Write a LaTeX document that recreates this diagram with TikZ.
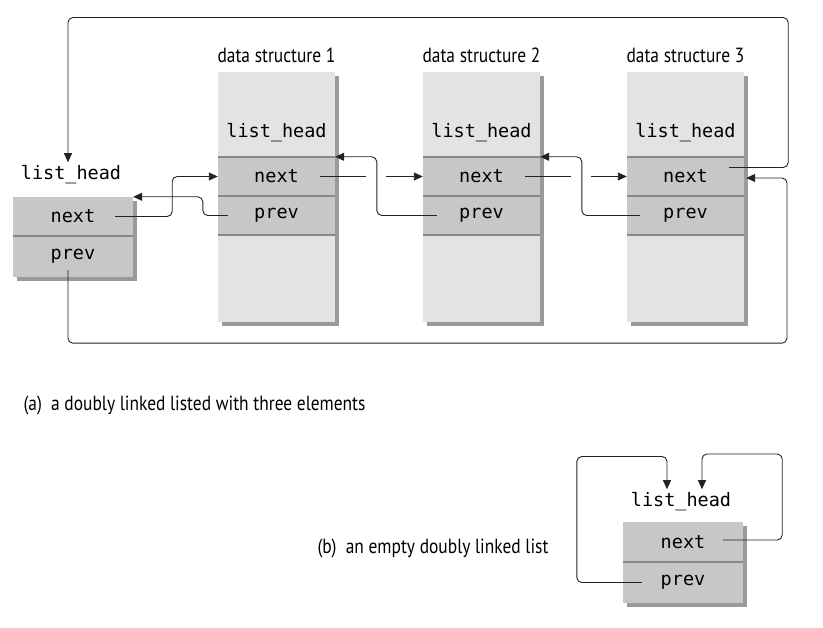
\documentclass[tikz,border=0pt]{standalone}
\usepackage{fontspec}
\setmonofont{DejaVu Sans Mono}
\newfontfamily\capfont[FakeStretch=0.85]{PT Sans}
\usetikzlibrary{arrows.meta,shadows}
\definecolor{bodygray}{HTML}{E3E3E3}
\definecolor{rowgray}{HTML}{C7C7C7}
\definecolor{sepgray}{HTML}{888888}
\definecolor{shadegray}{HTML}{9A9A9A}
\definecolor{linkgray}{HTML}{222222}
\begin{document}
\begin{tikzpicture}
  [
    x=1pt, y=-1pt,
    body/.style={fill=bodygray, inner sep=0pt,
      drop shadow={shadow xshift=4pt, shadow yshift=-4pt, fill=shadegray, opacity=1}},
    row/.style={fill=rowgray, inner sep=0pt, minimum height=39pt,
      font=\ttfamily\fontsize{18.5}{18.5}\selectfont},
    field/.style={font=\ttfamily\fontsize{18.5}{18.5}\selectfont},
    title/.style={font=\capfont\fontsize{20.5}{20.5}\selectfont},
    sep/.style={sepgray, line width=1.6pt},
    link/.style={linkgray, line width=0.9pt, rounded corners=5pt,
      -{Triangle[length=9pt,width=8pt]}},
    broken/.style={dash pattern=on 46pt off 20pt on 300pt}
  ]
  \useasboundingbox (0,0) rectangle (823,628);
  % the list head on its own
  \node[body, fill=rowgray, minimum width=120pt, minimum height=80pt] (h0) at (73,237) {};
  \node[row, minimum width=120pt] (next0) at (73,216.5) {next};
  \node[row, minimum width=120pt, minimum height=41pt] (prev0) at (73,256.5) {prev};
  \draw[sep] (next0.south west) -- (next0.south east);
  \node[field] (head0) at (71,175) {list\_head};
  % data structures 1 to 3
  \foreach \i/\x in {1/276.5,2/481.5,3/685.5} {
      \node[body, minimum width=117pt, minimum height=250pt] (ds\i) at (\x,197) {};
      \node[title] (title\i) at (\x,55) {data structure \i};
      \node[field] (head\i) at (\x,133) {list\_head};
      \node[row, minimum width=117pt] (next\i) at (\x,176.5) {next};
      \node[row, minimum width=117pt] (prev\i) at (\x,215.5) {prev};
      \draw[sep] (next\i.north west) -- (next\i.north east)
        (next\i.south west) -- (next\i.south east)
        (prev\i.south west) -- (prev\i.south east);
  }
  % next links
  \draw[link] ([xshift=-18pt]next0.east) -- ++(57,0) |- (next1.west);
  \draw[link, broken] ([xshift=-15pt]next1.east) -- (next2.west);
  \draw[link, broken] ([xshift=-15pt]next2.east) -- (next3.west);
  \draw[link] ([xshift=-15pt,yshift=9pt]next3.east) -- ++(59,0) -- ++(0,-150)
    -| ([xshift=-3pt]head0.north);
  % prev links
  \draw[link] ([xshift=10pt]prev1.west) -- ++(-25,0) |- (next0.north east);
  \draw[link] ([xshift=14pt]prev2.west) -- ++(-60,0) |- (next1.north east);
  \draw[link] ([xshift=13pt]prev3.west) -- ++(-58,0) |- (next2.north east);
  \draw[link] ([xshift=-5pt,yshift=7pt]prev0.south) -- ++(0,73) -- ++(719,0)
    |- ([xshift=2pt,yshift=-1.5pt]next3.east);
  % captions
  \node[title, anchor=west] (capa) at (20,405) {(a)\hspace{0.45em}a doubly linked listed with three elements};
  \node[title, anchor=west] (capb) at (314,548) {(b)\hspace{0.45em}an empty doubly linked list};
  % the empty list
  \node[body, fill=rowgray, minimum width=120pt, minimum height=81pt] (e) at (683,562.5) {};
  \node[row, minimum width=120pt, minimum height=40pt] (enext) at (683,542) {next};
  \node[row, minimum width=120pt, minimum height=41pt] (eprev) at (683,582.5) {prev};
  \draw[sep] (enext.south west) -- (enext.south east);
  \node[field] (ehead) at (681,502) {list\_head};
  \draw[link] ([xshift=19pt]eprev.west) -| ++(-65,-126) -| ([xshift=-14pt]ehead.north);
  \draw[link] ([xshift=-20pt,yshift=2pt]enext.east) -| ++(59,-86) -| ([xshift=21pt]ehead.north);
\end{tikzpicture}
\end{document}
